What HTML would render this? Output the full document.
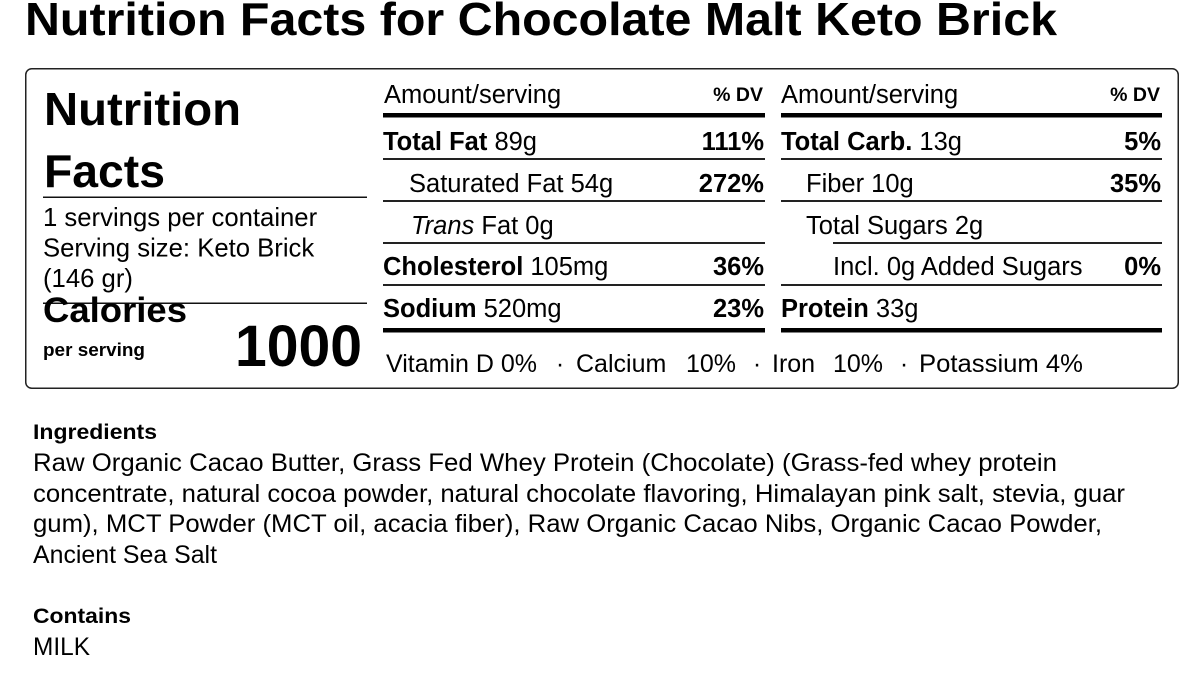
<!DOCTYPE html>
<html>
<head>
<meta charset="utf-8">
<style>
  html, body { margin: 0; padding: 0; background: #fff; }
  body { width: 1200px; height: 675px; overflow: hidden; }
  svg { display: block; }
  text { font-family: "Liberation Sans", Arial, Helvetica, sans-serif; fill: #000; }
  .b { font-weight: bold; }
</style>
</head>
<body>
<svg width="1200" height="675" viewBox="0 0 1200 675" xmlns="http://www.w3.org/2000/svg">
  <!-- Title -->
  <text x="25" y="35" font-size="46" class="b" textLength="1032" lengthAdjust="spacingAndGlyphs">Nutrition Facts for Chocolate Malt Keto Brick</text>

  <!-- Box -->
  <rect x="25.75" y="68.75" width="1152.5" height="319.5" rx="6" ry="6" fill="none" stroke="#222" stroke-width="1.5"/>

  <!-- Left column -->
  <text x="44" y="125" font-size="46" class="b" textLength="197" lengthAdjust="spacingAndGlyphs">Nutrition</text>
  <text x="44" y="187" font-size="46" class="b" textLength="121" lengthAdjust="spacingAndGlyphs">Facts</text>
  <rect x="43" y="196.5" width="324" height="1.5" fill="#111"/>
  <text x="43" y="226" font-size="25.7">1 servings per container</text>
  <text x="43" y="256.5" font-size="25.7">Serving size: Keto Brick</text>
  <text x="43" y="287" font-size="25.7">(146 gr)</text>
  <rect x="43" y="302.5" width="324" height="1.5" fill="#111"/>
  <text x="43" y="322" font-size="35" class="b" textLength="144" lengthAdjust="spacingAndGlyphs">Calories</text>
  <text x="43" y="356" font-size="18" class="b" textLength="102" lengthAdjust="spacingAndGlyphs">per serving</text>
  <text x="235" y="366" font-size="58" class="b" textLength="127" lengthAdjust="spacingAndGlyphs">1000</text>

  <!-- Middle column -->
  <text x="384" y="103" font-size="25.5">Amount/serving</text>
  <text x="763" y="101" font-size="19.5" class="b" text-anchor="end">% DV</text>
  <rect x="383" y="113" width="382" height="4.5" fill="#000"/>

  <text x="383" y="150" font-size="25.5"><tspan class="b">Total Fat</tspan> 89g</text>
  <text x="764" y="150" font-size="25.5" class="b" text-anchor="end">111%</text>
  <rect x="383" y="158" width="382" height="2" fill="#222"/>

  <text x="409" y="192" font-size="25.5">Saturated Fat 54g</text>
  <text x="764" y="192" font-size="25.5" class="b" text-anchor="end">272%</text>
  <rect x="383" y="200" width="382" height="2" fill="#222"/>

  <text x="411" y="234" font-size="25.5"><tspan font-style="italic">Trans</tspan> Fat 0g</text>
  <rect x="383" y="242" width="382" height="2" fill="#222"/>

  <text x="383" y="275" font-size="25.5"><tspan class="b">Cholesterol</tspan> 105mg</text>
  <text x="764" y="275" font-size="25.5" class="b" text-anchor="end">36%</text>
  <rect x="383" y="284" width="382" height="2" fill="#222"/>

  <text x="383" y="317" font-size="25.5"><tspan class="b">Sodium</tspan> 520mg</text>
  <text x="764" y="317" font-size="25.5" class="b" text-anchor="end">23%</text>
  <rect x="383" y="328" width="382" height="4.5" fill="#000"/>

  <!-- Right column -->
  <text x="781" y="103" font-size="25.5">Amount/serving</text>
  <text x="1160" y="101" font-size="19.5" class="b" text-anchor="end">% DV</text>
  <rect x="781" y="113" width="381" height="4.5" fill="#000"/>

  <text x="781" y="150" font-size="25.5"><tspan class="b">Total Carb.</tspan> 13g</text>
  <text x="1161" y="150" font-size="25.5" class="b" text-anchor="end">5%</text>
  <rect x="781" y="158" width="381" height="2" fill="#222"/>

  <text x="806" y="192" font-size="25.5">Fiber 10g</text>
  <text x="1161" y="192" font-size="25.5" class="b" text-anchor="end">35%</text>
  <rect x="781" y="200" width="381" height="2" fill="#222"/>

  <text x="806" y="234" font-size="25.5">Total Sugars 2g</text>
  <rect x="833" y="242" width="329" height="2" fill="#222"/>

  <text x="833" y="275" font-size="25.5">Incl. 0g Added Sugars</text>
  <text x="1161" y="275" font-size="25.5" class="b" text-anchor="end">0%</text>
  <rect x="781" y="284" width="381" height="2" fill="#222"/>

  <text x="781" y="317" font-size="25.5"><tspan class="b">Protein</tspan> 33g</text>
  <rect x="781" y="328" width="381" height="4.5" fill="#000"/>

  <!-- Vitamins row -->
  <text x="386" y="372" font-size="25">Vitamin D 0%</text>
  <text x="560" y="372" font-size="25" text-anchor="middle">·</text>
  <text x="576" y="372" font-size="25">Calcium</text>
  <text x="686" y="372" font-size="25">10%</text>
  <text x="757" y="372" font-size="25" text-anchor="middle">·</text>
  <text x="772" y="372" font-size="25">Iron</text>
  <text x="833" y="372" font-size="25">10%</text>
  <text x="904" y="372" font-size="25" text-anchor="middle">·</text>
  <text x="919" y="372" font-size="25" textLength="164" lengthAdjust="spacingAndGlyphs">Potassium 4%</text>

  <!-- Ingredients -->
  <text x="33" y="439" font-size="21" class="b" textLength="124" lengthAdjust="spacingAndGlyphs">Ingredients</text>
  <text x="33" y="471" font-size="25" textLength="1024" lengthAdjust="spacingAndGlyphs">Raw Organic Cacao Butter, Grass Fed Whey Protein (Chocolate) (Grass-fed whey protein</text>
  <text x="33" y="502" font-size="25" textLength="1092" lengthAdjust="spacingAndGlyphs">concentrate, natural cocoa powder, natural chocolate flavoring, Himalayan pink salt, stevia, guar</text>
  <text x="33" y="532" font-size="25" textLength="1069" lengthAdjust="spacingAndGlyphs">gum), MCT Powder (MCT oil, acacia fiber), Raw Organic Cacao Nibs, Organic Cacao Powder,</text>
  <text x="33" y="563" font-size="25" textLength="184" lengthAdjust="spacingAndGlyphs">Ancient Sea Salt</text>

  <text x="33" y="623" font-size="21" class="b" textLength="98" lengthAdjust="spacingAndGlyphs">Contains</text>
  <text x="33" y="655" font-size="25" textLength="57" lengthAdjust="spacingAndGlyphs">MILK</text>
</svg>
</body>
</html>
